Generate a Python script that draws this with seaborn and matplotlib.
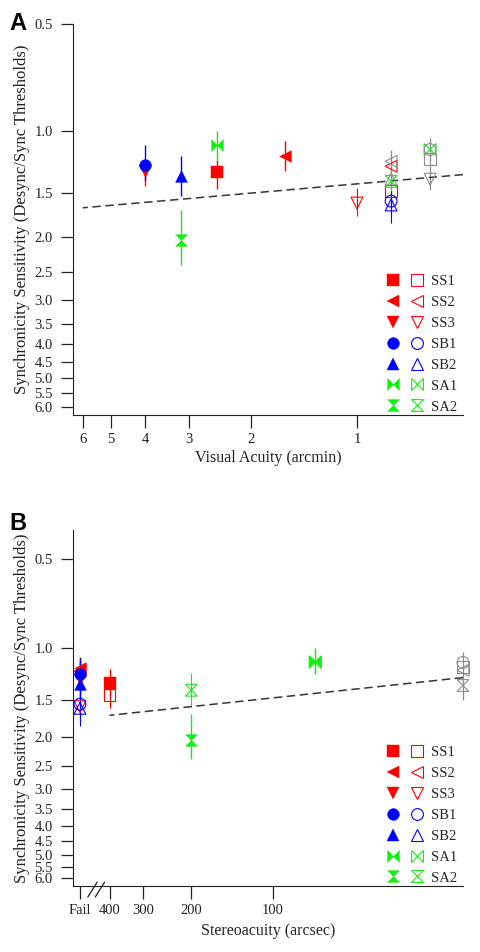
import matplotlib
matplotlib.use("Agg")
import matplotlib.pyplot as plt
import seaborn as sns
from matplotlib.lines import Line2D
from matplotlib.legend_handler import HandlerTuple
from matplotlib.ticker import FixedLocator, FixedFormatter, NullLocator

sns.set_style("ticks")
plt.rcParams['font.family'] = ['Liberation Serif', 'DejaVu Serif']

# Subjects and how they are drawn
subjects = ["SS1", "SS2", "SS3", "SB1", "SB2", "SA1", "SA2"]
subject_colors = ["#ff0000", "#ff0000", "#ff0000", "#0000ff", "#0000ff", "#11ee11", "#11ee11"]
bowtie = [(-1, -1), (-1, 1), (1, -1), (1, 1), (-1, -1)]
hourglass = [(-1, 1), (1, 1), (-1, -1), (1, -1), (-1, 1)]
subject_markers = ["s", "<", "v", "o", "^", bowtie, hourglass]

# Sensitivity axis
sens_ticks = [0.5, 1.0, 1.5, 2.0, 2.5, 3.0, 3.5, 4.0, 4.5, 5.0, 5.5, 6.0]

# Panel A: visual acuity (arcmin)
acuity_ticks = [6, 5, 4, 3, 2, 1]
acuity_filled = [2.5, 1.6, 4.0, 4.0, 3.15, 2.5, 3.15]
sens_filled_A = [1.31, 1.18, 1.30, 1.25, 1.34, 1.10, 2.03]
low_filled_A = [1.21, 1.07, 1.20, 1.10, 1.18, 1.00, 1.67]
high_filled_A = [1.46, 1.30, 1.43, 1.38, 1.53, 1.21, 2.39]
acuity_open = [0.8, 0.8, 1.0, 0.8, 0.8, 0.62, 0.8]
sens_open_A = [1.48, 1.26, 1.60, 1.58, 1.62, 1.13, 1.39]
low_open_A = [1.38, 1.18, 1.45, 1.46, 1.48, 1.05, 1.30]
high_open_A = [1.58, 1.35, 1.74, 1.72, 1.82, 1.22, 1.48]
ctrl_x_A = [0.8, 0.8, 0.62, 0.62, 0.62]
ctrl_y_A = [1.22, 1.37, 1.13, 1.20, 1.37]
ctrl_markers_A = ["<", "^", "o", "s", "v"]
ctrl_err_x_A = [0.8, 0.62]
ctrl_err_low_A = [1.13, 1.05]
ctrl_err_high_A = [1.45, 1.47]
fit_x_A = [6.0, 0.5]
fit_y_A = [1.65, 1.33]

# Panel B: stereoacuity (arcsec), "Fail" drawn at 514
stereo_ticks = [514, 400, 300, 200, 100]
stereo_labels = ["Fail", "400", "300", "200", "100"]
stereo_filled = [400, 514, 514, 514, 514, 70, 200]
sens_filled_B = [1.31, 1.17, 1.27, 1.23, 1.32, 1.11, 2.04]
low_filled_B = [1.18, 1.07, 1.12, 1.08, 1.15, 1.00, 1.67]
high_filled_B = [1.45, 1.30, 1.45, 1.40, 1.50, 1.23, 2.38]
stereo_open = [400, 514, 514, 514, 514, 70, 200]
sens_open_B = [1.44, 1.20, 1.58, 1.55, 1.60, 1.12, 1.39]
low_open_B = [1.30, 1.10, 1.45, 1.42, 1.45, 1.02, 1.22]
high_open_B = [1.60, 1.32, 1.75, 1.70, 1.84, 1.23, 1.58]
ctrl_x_B = [20, 20, 20, 20]
ctrl_y_B = [1.12, 1.16, 1.19, 1.34]
ctrl_markers_B = ["o", "s", "<", hourglass]
ctrl_err_x_B = [20]
ctrl_err_low_B = [1.03]
ctrl_err_high_B = [1.50]
fit_x_B = [400, 20]
fit_y_B = [1.69, 1.26]

MS = 8.5
GRAY = "#8c8c8c"
INK = "#222222"


def draw_panel(ax, xf, yf, lof, hif, xo, yo, loo, hio, cx, cy, cm, ex, elo, ehi, fx, fy):
    ax.set_xscale("log")
    ax.set_yscale("log")
    # error bars
    for i in range(len(subjects)):
        ax.vlines(xf[i], lof[i], hif[i], color=subject_colors[i], lw=1.0, clip_on=False)
        ax.vlines(xo[i], loo[i], hio[i], color=subject_colors[i], lw=0.8, clip_on=False)
    ax.vlines(ex, elo, ehi, color=GRAY, lw=0.9, clip_on=False)
    # regression line
    sns.lineplot(x=fx, y=fy, ax=ax, color="#333333", lw=1.1, linestyle=(0, (5.5, 3)))
    # points
    for i in range(len(subjects)):
        sns.scatterplot(x=[xf[i]], y=[yf[i]], ax=ax, marker=subject_markers[i], s=MS ** 2,
                        color=subject_colors[i], edgecolor=subject_colors[i], linewidth=0.3,
                        clip_on=False, zorder=3)
        sns.scatterplot(x=[xo[i]], y=[yo[i]], ax=ax, marker=subject_markers[i], s=MS ** 2,
                        facecolor="none", edgecolor=subject_colors[i], linewidth=0.8,
                        clip_on=False, zorder=3)
    for i in range(len(cx)):
        sns.scatterplot(x=[cx[i]], y=[cy[i]], ax=ax, marker=cm[i], s=MS ** 2,
                        facecolor="none", edgecolor=GRAY, linewidth=0.8,
                        clip_on=False, zorder=4)

    sns.despine(ax=ax)
    ax.spines["left"].set_color(INK)
    ax.spines["bottom"].set_color(INK)
    ax.yaxis.set_major_locator(FixedLocator(sens_ticks))
    ax.yaxis.set_major_formatter(FixedFormatter([f"{v:.1f}" for v in sens_ticks]))
    ax.yaxis.set_minor_locator(NullLocator())
    ax.xaxis.set_minor_locator(NullLocator())
    ax.tick_params(axis="y", direction="out", length=9, width=0.9, pad=5.5,
                   color=INK, labelcolor=INK, labelsize=10.5)
    ax.tick_params(axis="x", direction="out", length=9, width=0.9, pad=4,
                   color=INK, labelcolor=INK, labelsize=10.5)
    ax.set_ylabel("Synchronicity Sensitivity (Desync/Sync Thresholds)", fontsize=12, color=INK)
    ax.yaxis.set_label_coords(-0.11, 0.5)

    handles = []
    for i in range(len(subjects)):
        filled = Line2D([], [], ls="none", marker=subject_markers[i], ms=MS,
                        color=subject_colors[i], mec=subject_colors[i], mew=0.3)
        hollow = Line2D([], [], ls="none", marker=subject_markers[i], ms=MS,
                        mfc="none", mec=subject_colors[i], mew=0.8)
        handles.append((filled, hollow))
    ax.legend(handles, subjects, handler_map={tuple: HandlerTuple(ndivide=None, pad=0.7)},
              loc="lower right", bbox_to_anchor=(0.99, 0.0), frameon=False,
              fontsize=10.5, handlelength=2.6, handletextpad=0.5, labelspacing=0.53,
              borderpad=0.1, borderaxespad=0.0)


fig = plt.figure(figsize=(4.8, 9.52), dpi=100)
axA = fig.add_axes([73 / 480, 1 - 415 / 952, 390 / 480, 391 / 952])
axB = fig.add_axes([73 / 480, 1 - 886 / 952, 390 / 480, 356 / 952])

draw_panel(axA, acuity_filled, sens_filled_A, low_filled_A, high_filled_A,
           acuity_open, sens_open_A, low_open_A, high_open_A,
           ctrl_x_A, ctrl_y_A, ctrl_markers_A, ctrl_err_x_A, ctrl_err_low_A, ctrl_err_high_A,
           fit_x_A, fit_y_A)
axA.set_xlim(6.4, 0.5)
axA.set_ylim(6.34, 0.5)
axA.xaxis.set_major_locator(FixedLocator(acuity_ticks))
axA.xaxis.set_major_formatter(FixedFormatter([str(v) for v in acuity_ticks]))
axA.xaxis.set_minor_locator(NullLocator())
axA.set_xlabel("Visual Acuity (arcmin)", fontsize=11.5, color=INK)
axA.xaxis.set_label_coords(0.5, -0.09)

draw_panel(axB, stereo_filled, sens_filled_B, low_filled_B, high_filled_B,
           stereo_open, sens_open_B, low_open_B, high_open_B,
           ctrl_x_B, ctrl_y_B, ctrl_markers_B, ctrl_err_x_B, ctrl_err_low_B, ctrl_err_high_B,
           fit_x_B, fit_y_B)
axB.set_xlim(545, 20)
axB.set_ylim(6.37, 0.4)
axB.xaxis.set_major_locator(FixedLocator(stereo_ticks))
axB.xaxis.set_major_formatter(FixedFormatter(stereo_labels))
axB.xaxis.set_minor_locator(NullLocator())
axB.set_xlabel("Stereoacuity (arcsec)", fontsize=11.5, color=INK)
axB.xaxis.set_label_coords(0.5, -0.105)

# axis break marks between Fail and 400
for x0 in (0.038, 0.057):
    axB.plot([x0, x0 + 0.024], [-0.031, 0.011], transform=axB.transAxes,
             color=INK, lw=0.9, clip_on=False)

fig.text(9 / 480, 1 - 12 / 952, "A", family="Liberation Sans", weight="bold",
         fontsize=17, va="top", ha="left", color="black")
fig.text(9 / 480, 1 - 512 / 952, "B", family="Liberation Sans", weight="bold",
         fontsize=17, va="top", ha="left", color="black")

fig.savefig("out.png", dpi=100)
